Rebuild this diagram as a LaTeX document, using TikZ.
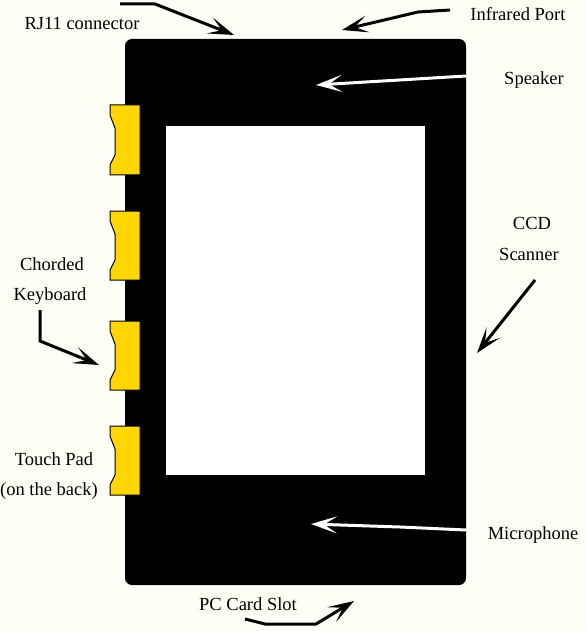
\documentclass[tikz,border=0pt]{standalone}
\usepackage{fontspec}
\setmainfont{Liberation Serif}
\usetikzlibrary{arrows.meta}
\definecolor{bg}{RGB}{255,255,247}
\definecolor{tabyellow}{RGB}{255,214,0}
\tikzset{
  lbl/.style={anchor=base,inner sep=0pt,font=\fontsize{18.5}{20}\selectfont},
  callout/.style={line width=3pt,-{Stealth[length=26pt,width=17pt,inset=13pt]}},
  wcallout/.style={callout,white},
  tab/.style={fill=tabyellow,draw=black,line width=1pt}
}
\newcommand{\kbtab}[2]{% top, bottom
  \filldraw[tab] (110,#1) -- (140,#1) -- (140,#2) -- (110,#2) -- (110,#2-10) -- (115,#2-20)
    -- (115,#1+23) -- (110,#1+10) -- cycle;}
\begin{document}
\begin{tikzpicture}[x=1pt,y=-1pt]
\useasboundingbox[fill=bg] (0,0) rectangle (586,631);
% body
\fill[black,rounded corners=7pt] (125,39) rectangle (466,585);
% screen
\fill[white] (166,126) rectangle (425,475);
% tabs
\kbtab{105}{175}
\kbtab{211}{280}
\kbtab{321}{390}
\kbtab{426}{495}
% labels
\node[lbl] (rj) at (82,30) {RJ11 connector};
\node[lbl] (ir) at (518,21) {Infrared Port};
\node[lbl] (spk) at (534,85) {Speaker};
\node[lbl] (ccd) at (532,229) {CCD};
\node[lbl] (scan) at (529,260) {Scanner};
\node[lbl] (chord) at (52,270) {Chorded};
\node[lbl] (kb) at (50,300) {Keyboard};
\node[lbl] (tp) at (54,465) {Touch Pad};
\node[lbl] (back) at (49,495) {(on the back)};
\node[lbl] (mic) at (533,539) {Microphone};
\node[lbl] (pc) at (248,610) {PC Card Slot};
% arrow endpoints
\coordinate (rjA) at (120,4);
\coordinate (rjB) at (155,4);
\coordinate (rjT) at (234,35);
\coordinate (irA) at (450,10);
\coordinate (irB) at (418,12);
\coordinate (irT) at (342,30);
\coordinate (spA) at (466,76);
\coordinate (spT) at (316,85);
\coordinate (ccA) at (535,280);
\coordinate (ccT) at (477,353);
\coordinate (kbA) at (40,310);
\coordinate (kbB) at (40,341);
\coordinate (kbT) at (99,365);
\coordinate (miA) at (466,530);
\coordinate (miB) at (400,527);
\coordinate (miT) at (311,524);
\coordinate (pcA) at (245,619);
\coordinate (pcB) at (265,624);
\coordinate (pcC) at (316,624);
\coordinate (pcT) at (354,601);
% arrows
\draw[callout] (rjA) -- (rjB) -- (rjT);
\draw[callout] (irA) -- (irB) -- (irT);
\draw[wcallout] (spA) -- (spT);
\draw[callout] (ccA) -- (ccT);
\draw[callout] (kbA) -- (kbB) -- (kbT);
\draw[wcallout] (miA) -- (miB) -- (miT);
\draw[callout] (pcA) -- (pcB) -- (pcC) -- (pcT);
\end{tikzpicture}
\end{document}
